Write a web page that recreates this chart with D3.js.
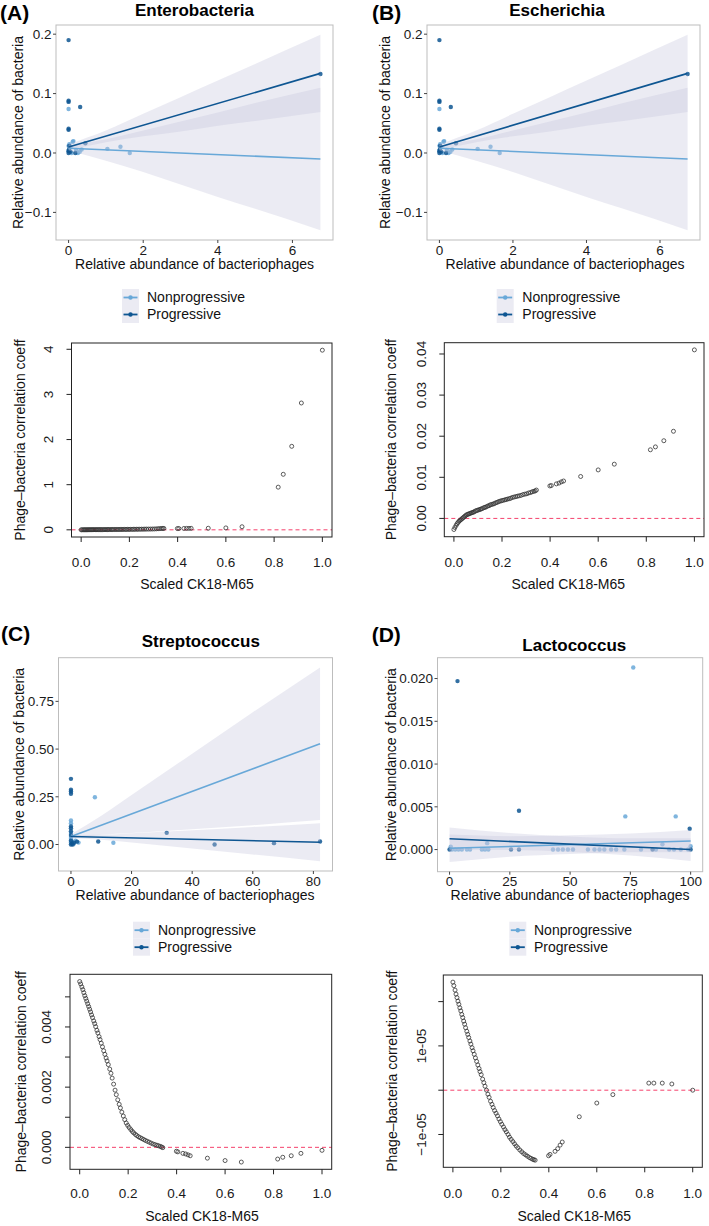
<!DOCTYPE html>
<html>
<head>
<meta charset="utf-8">
<script src="https://cdn.jsdelivr.net/npm/d3@7"></script>
<style>
  body { margin: 0; background: #fff; }
  text { font-family: "Liberation Sans", Arial, sans-serif; }
</style>
</head>
<body>
<script>
// ---------- data: top scatter panels (relative abundance) ----------
// Enterobacteria (panel B, Escherichia, shows the same values)
const entNonX = [0, 0, 0, 0.02, 0.05, 0.08, 0.11, 0.13, 0.2, 0.25, 0.3, 0.35, 1.04, 1.39, 1.64];
const entNonY = [0.074, 0.012, 0.004, 0.015, 0.010, 0.000, 0.019, 0.020, 0.005, 0.000, 0.002, 0.006, 0.007, 0.0105, 0.000];
const entProX = [0, 0, 0, 0, 0, 0, 0, 0.01, 0.02, 0.05, 0.18, 0.31, 0.45, 6.75];
const entProY = [0.190, 0.088, 0.086, 0.041, 0.039, 0.003, 0.000, 0.006, 0.012, 0.002, 0.000, 0.0775, 0.0165, 0.133];
const entFitX = [0, 6.75];
const entNonFitY = [0.008, -0.010];
const entProFitY = [0.010, 0.134];
const entRibX = [0, 1, 2, 3, 4, 5, 6.75];
const entNonLo = [0.004, -0.013, -0.032, -0.053, -0.074, -0.094, -0.130];
const entNonHi = [0.012, 0.023, 0.038, 0.053, 0.068, 0.084, 0.110];
const entProLo = [0.005, 0.018, 0.028, 0.036, 0.046, 0.054, 0.069];
const entProHi = [0.015, 0.038, 0.066, 0.094, 0.122, 0.150, 0.199];

// Streptococcus
const strNonX = [0, 0, 0, 0, 0, 0, 0, 0.5, 1, 1.5, 2.5, 7.9, 14];
const strNonY = [0.126, 0.112, 0.060, 0.040, 0.030, 0.020, 0.010, 0.015, 0.005, 0.020, 0.010, 0.248, 0.009];
const strProX = [0, 0, 0, 0, 0, 0, 0, 0, 0, 0, 0.3, 0.6, 1, 2, 9, 31.6, 47.4, 67, 82.2];
const strProY = [0.344, 0.287, 0.278, 0.266, 0.095, 0.085, 0.070, 0.050, 0.020, 0.000, 0.005, 0.000, 0.010, 0.015, 0.016, 0.061, 0.000, 0.007, 0.016];
const strFitX = [0, 82.2];
const strNonFitY = [0.042, 0.528];
const strProFitY = [0.042, 0.012];
const strRibX = [0, 10, 20, 40, 60, 82.2];
const strNonLo = [0.030, 0.051, 0.060, 0.080, 0.101, 0.128];
const strNonHi = [0.054, 0.151, 0.260, 0.476, 0.693, 0.928];
const strProLo = [0.034, 0.025, 0.011, -0.021, -0.052, -0.088];
const strProHi = [0.050, 0.051, 0.059, 0.075, 0.092, 0.112];

// Lactococcus
const lacNonX = [76.2, 72.9, 93.8, 15.6, 0.5, 1.0, 2.35, 3.7, 5.1, 7.2, 8.5, 13.4, 14.7, 16.1, 42.9, 45, 47, 49.1, 51.2, 57.4, 60.1, 62.2, 64.2, 67, 69.1, 72.5, 79.4, 85.6, 88.3, 91.1, 93.1, 95.9, 100, 99];
const lacNonY = [0.0213, 0.00388, 0.00388, 0.00075, 0.00035, 0, 0, 0, 0, 0, 0, 0, 0, 0, 0, 0, 0, 0, 0, 0, 0, 0, 0, 0, 0, 0, 0, 0, 0.00063, 0, 0, 0, 0.0004, 0];
const lacProX = [3.3, 28.8, 99.6, 0, 25.5, 28.8, 84.2, 100];
const lacProY = [0.0197, 0.00454, 0.00243, 0, 0, 0, 0, 0];
const lacFitX = [0, 100];
const lacNonFitY = [0.00015, 0.0010];
const lacProFitY = [0.00126, 0.0];
const lacRibX = [0, 25, 50, 75, 100];
const lacNonLo = [-0.00145, -0.00084, -0.00052, -0.00031, -0.0003];
const lacNonHi = [0.00175, 0.00156, 0.00168, 0.00189, 0.0023];
const lacProLo = [-0.00007, -0.00006, -0.00027, -0.00069, -0.00133];
const lacProHi = [0.00259, 0.00195, 0.00153, 0.00132, 0.00133];

// ---------- data: bottom panels (coefficient vs scaled CK18-M65) ----------
const ck18 = [0.000, 0.004, 0.009, 0.013, 0.017, 0.021, 0.025, 0.029, 0.033, 0.037,
  0.041, 0.045, 0.049, 0.053, 0.058, 0.062, 0.066, 0.071, 0.075, 0.080,
  0.084, 0.089, 0.094, 0.099, 0.104, 0.109, 0.113, 0.118, 0.124, 0.129,
  0.134, 0.140, 0.146, 0.151, 0.157, 0.163, 0.168, 0.174, 0.180, 0.186,
  0.192, 0.198, 0.204, 0.211, 0.217, 0.223, 0.230, 0.236, 0.243, 0.250,
  0.257, 0.264, 0.271, 0.279, 0.287, 0.295, 0.303, 0.311, 0.319, 0.326,
  0.333, 0.338, 0.343,
  0.399, 0.405, 0.426, 0.437, 0.447, 0.456, 0.527, 0.600, 0.667, 0.817, 0.838, 0.873, 0.913, 1.000];

const coefEnt = [0.000, 0.000, 0.001, 0.001, 0.001, 0.001, 0.001, 0.002, 0.002, 0.002,
  0.002, 0.002, 0.003, 0.003, 0.003, 0.003, 0.003, 0.004, 0.004, 0.004,
  0.004, 0.004, 0.005, 0.005, 0.005, 0.005, 0.006, 0.006, 0.006, 0.006,
  0.007, 0.007, 0.007, 0.007, 0.008, 0.008, 0.008, 0.009, 0.009, 0.009,
  0.010, 0.010, 0.010, 0.011, 0.011, 0.012, 0.012, 0.013, 0.013, 0.014,
  0.014, 0.015, 0.016, 0.016, 0.017, 0.018, 0.019, 0.021, 0.024, 0.027,
  0.029, 0.030, 0.031,
  0.028, 0.029, 0.030, 0.031, 0.032, 0.033, 0.035, 0.042, 0.068, 0.945, 1.23, 1.85, 2.81, 3.98];

const coefEsc = [-0.0027, -0.0022, -0.0017, -0.0013, -0.0010, -0.0007, -0.0005, -0.0003, -0.0001, 0.0001,
  0.0003, 0.0005, 0.0007, 0.0009, 0.0010, 0.0011, 0.0012, 0.0013, 0.0014, 0.0015,
  0.0016, 0.0018, 0.0019, 0.0020, 0.0021, 0.0022, 0.0023, 0.0024, 0.0026, 0.0027,
  0.0028, 0.0030, 0.0031, 0.0033, 0.0034, 0.0035, 0.0036, 0.0038, 0.0039, 0.0041,
  0.0042, 0.0043, 0.0044, 0.0045, 0.0046, 0.0047, 0.0048, 0.0049, 0.0051, 0.0052,
  0.0053, 0.0054, 0.0055, 0.0056, 0.0058, 0.0059, 0.0060, 0.0062, 0.0063, 0.0065,
  0.0066, 0.0067, 0.0069,
  0.0079, 0.0080, 0.0084, 0.0086, 0.0089, 0.0091, 0.0102, 0.0118, 0.0132, 0.0167, 0.0174, 0.0189, 0.0212, 0.0410];

const coefStr = [0.00551, 0.00543, 0.00533, 0.00524, 0.00514, 0.00504, 0.00495, 0.00486, 0.00477, 0.00468,
  0.00459, 0.00450, 0.00440, 0.00431, 0.00420, 0.00411, 0.00401, 0.00389, 0.00380, 0.00368,
  0.00358, 0.00346, 0.00334, 0.00321, 0.00309, 0.00297, 0.00287, 0.00275, 0.00260, 0.00246,
  0.00230, 0.00210, 0.00190, 0.00175, 0.00158, 0.00143, 0.00131, 0.00117, 0.00104, 0.00092,
  0.00081, 0.00073, 0.00066, 0.00059, 0.00053, 0.00048, 0.00043, 0.00039, 0.00035, 0.00032,
  0.00029, 0.00026, 0.00023, 0.00020, 0.00017, 0.00014, 0.00011, 0.00009, 0.00007, 0.00005,
  0.00003, 0.00001, -0.00001,
  -0.00013, -0.00015, -0.00020, -0.00022, -0.00025, -0.00028, -0.00036, -0.00044, -0.00049, -0.00039, -0.00033, -0.00028, -0.00020, -0.00010];

const coefLac = [2.44e-5, 2.36e-5, 2.26e-5, 2.17e-5, 2.09e-5, 2.01e-5, 1.94e-5, 1.86e-5, 1.79e-5, 1.71e-5,
  1.64e-5, 1.56e-5, 1.49e-5, 1.41e-5, 1.33e-5, 1.26e-5, 1.19e-5, 1.11e-5, 1.04e-5, 0.96e-5,
  0.89e-5, 0.81e-5, 0.73e-5, 0.65e-5, 0.57e-5, 0.49e-5, 0.42e-5, 0.35e-5, 0.25e-5, 0.17e-5,
  0.09e-5, 0.00, -0.09e-5, -0.16e-5, -0.25e-5, -0.32e-5, -0.39e-5, -0.46e-5, -0.52e-5, -0.58e-5,
  -0.65e-5, -0.71e-5, -0.77e-5, -0.83e-5, -0.89e-5, -0.94e-5, -1.00e-5, -1.06e-5, -1.11e-5, -1.16e-5,
  -1.21e-5, -1.26e-5, -1.30e-5, -1.35e-5, -1.39e-5, -1.43e-5, -1.46e-5, -1.49e-5, -1.52e-5, -1.54e-5,
  -1.56e-5, -1.57e-5, -1.58e-5,
  -1.48e-5, -1.45e-5, -1.38e-5, -1.32e-5, -1.24e-5, -1.17e-5, -0.60e-5, -0.29e-5, -0.10e-5, 0.16e-5, 0.16e-5, 0.16e-5, 0.14e-5, 0.00];

// ---------- tick labels ----------
const entXTicks = [0, 2, 4, 6];
const entYTicks = [-0.1, 0, 0.1, 0.2];
const entYLabels = ["\u22120.1", "0.0", "0.1", "0.2"];
const strXTicks = [0, 20, 40, 60, 80];
const strYTicks = [0, 0.25, 0.5, 0.75];
const strYLabels = ["0.00", "0.25", "0.50", "0.75"];
const lacXTicks = [0, 25, 50, 75, 100];
const lacYTicks = [0, 0.005, 0.01, 0.015, 0.02];
const lacYLabels = ["0.000", "0.005", "0.010", "0.015", "0.020"];

const ckXTicks = [0, 0.2, 0.4, 0.6, 0.8, 1.0];
const ckXLabels = ["0.0", "0.2", "0.4", "0.6", "0.8", "1.0"];
const coefEntTicks = [0, 1, 2, 3, 4];
const coefEntLabels = ["0", "1", "2", "3", "4"];
const coefEscTicks = [0, 0.01, 0.02, 0.03, 0.04];
const coefEscLabels = ["0.00", "0.01", "0.02", "0.03", "0.04"];
const coefStrTicks = [0, 0.001, 0.002, 0.003, 0.004, 0.005];
const coefStrLabels = ["0.000", "", "0.002", "", "0.004", ""];
const coefLacTicks = [-1e-5, 0, 1e-5, 2e-5];
const coefLacLabels = ["\u22121e-05", "", "1e-05", ""];

const groups = ["Nonprogressive", "Progressive"];

// ---------- drawing ----------
const LIGHT = "#68a8d8";
const DARK = "#0e5692";
const RIB = "rgb(198,198,221)";
const KEYBG = "#ebebf3";

const svg = d3.select("body").append("svg")
  .attr("width", 709)
  .attr("height", 1226);

function zipXY(xs, ys) { return xs.map((x, i) => [x, ys[i]]); }

function expand(ext, f) {
  const d = ext[1] - ext[0];
  return [ext[0] - d * f, ext[1] + d * f];
}

function rotText(g, x, y, txt, size) {
  g.append("text")
    .attr("transform", `translate(${x},${y}) rotate(-90)`)
    .attr("text-anchor", "middle")
    .attr("dominant-baseline", "central")
    .attr("font-size", size)
    .attr("fill", "#111")
    .text(txt);
}

function drawScatter(p) {
  const g = svg.append("g");
  const allX = [], allY = [];
  p.series.forEach(s => {
    allX.push(...s.x, ...s.ribX);
    allY.push(...s.y, ...s.lo, ...s.hi);
  });
  const x = d3.scaleLinear().domain(expand(d3.extent(allX), 0.05)).range([p.box.l, p.box.r]);
  const y = d3.scaleLinear().domain(expand(d3.extent(allY), 0.05)).range([p.box.b, p.box.t]);

  const clipId = "clip" + p.letter.replace(/\W/g, "");
  g.append("clipPath").attr("id", clipId).append("rect")
    .attr("x", p.box.l).attr("y", p.box.t)
    .attr("width", p.box.r - p.box.l).attr("height", p.box.b - p.box.t);
  const inner = g.append("g").attr("clip-path", `url(#${clipId})`);

  // points
  p.series.forEach(s => {
    inner.selectAll(null).data(zipXY(s.x, s.y)).enter().append("circle")
      .attr("cx", d => x(d[0])).attr("cy", d => y(d[1]))
      .attr("r", 2.2).attr("fill", s.color).attr("fill-opacity", 0.85);
  });
  // confidence ribbons
  const area = d3.area().x(d => x(d[0])).y0(d => y(d[1])).y1(d => y(d[2])).curve(d3.curveMonotoneX);
  p.series.forEach(s => {
    inner.append("path")
      .datum(s.ribX.map((v, i) => [v, s.lo[i], s.hi[i]]))
      .attr("d", area).attr("fill", RIB).attr("fill-opacity", 0.35);
  });
  // fitted lines
  const line = d3.line().x(d => x(d[0])).y(d => y(d[1]));
  p.series.forEach(s => {
    inner.append("path").datum(zipXY(s.fitX, s.fitY))
      .attr("d", line).attr("fill", "none").attr("stroke", s.color).attr("stroke-width", 1.6);
  });

  // border
  g.append("rect")
    .attr("x", p.box.l).attr("y", p.box.t)
    .attr("width", p.box.r - p.box.l).attr("height", p.box.b - p.box.t)
    .attr("fill", "none").attr("stroke", "#bdbdbd").attr("stroke-width", 1);

  // axes
  p.xTicks.forEach(t => {
    g.append("line").attr("x1", x(t)).attr("x2", x(t)).attr("y1", p.box.b).attr("y2", p.box.b + 3)
      .attr("stroke", "#444");
    g.append("text").attr("x", x(t)).attr("y", p.xTickY).attr("text-anchor", "middle")
      .attr("font-size", 13.5).attr("fill", "#1a1a1a").text(t);
  });
  p.yTicks.forEach((t, i) => {
    g.append("line").attr("x1", p.box.l - 3).attr("x2", p.box.l).attr("y1", y(t)).attr("y2", y(t))
      .attr("stroke", "#444");
    g.append("text").attr("x", p.box.l - 4.5).attr("y", y(t)).attr("dy", "0.35em")
      .attr("text-anchor", "end").attr("font-size", 13.5).attr("fill", "#1a1a1a").text(p.yLabels[i]);
  });

  g.append("text").attr("x", p.xlab.x).attr("y", p.xlab.y).attr("text-anchor", "middle")
    .attr("font-size", 14).attr("fill", "#111").text("Relative abundance of bacteriophages");
  rotText(g, p.ylabX, (p.box.t + p.box.b) / 2, "Relative abundance of bacteria", 14);

  g.append("text").attr("x", p.title.x).attr("y", p.title.y).attr("text-anchor", "middle")
    .attr("font-size", 17).attr("font-weight", "bold").text(p.title.text);
  g.append("text").attr("x", p.letterPos.x).attr("y", p.letterPos.y)
    .attr("font-size", 21).attr("font-weight", "bold").text(p.letter);

  // legend
  const lg = g.append("g");
  [LIGHT, DARK].forEach((c, i) => {
    const ky = p.legend.y + i * 17;
    lg.append("rect").attr("x", p.legend.x).attr("y", ky).attr("width", 17).attr("height", 17)
      .attr("fill", KEYBG);
    lg.append("line").attr("x1", p.legend.x + 1.5).attr("x2", p.legend.x + 15.5)
      .attr("y1", ky + 8.5).attr("y2", ky + 8.5).attr("stroke", c).attr("stroke-width", 1.8);
    lg.append("circle").attr("cx", p.legend.x + 8.5).attr("cy", ky + 8.5).attr("r", 2.2).attr("fill", c);
    lg.append("text").attr("x", p.legend.tx).attr("y", ky + 8.5).attr("dy", "0.35em")
      .attr("font-size", 14).attr("fill", "#111").text(groups[i]);
  });
}

function drawBase(p) {
  const g = svg.append("g");
  const x = d3.scaleLinear().domain(expand(d3.extent(ck18), 0.04)).range([p.box.l, p.box.r]);
  const y = d3.scaleLinear().domain(expand(d3.extent(p.coef), 0.04)).range([p.box.b, p.box.t]);

  g.append("line").attr("x1", p.box.l).attr("x2", p.box.r).attr("y1", y(0)).attr("y2", y(0))
    .attr("stroke", "#f5426c").attr("stroke-width", 1).attr("stroke-dasharray", "4,3");

  g.selectAll(null).data(zipXY(ck18, p.coef)).enter().append("circle")
    .attr("cx", d => x(d[0])).attr("cy", d => y(d[1])).attr("r", 2)
    .attr("fill", "none").attr("stroke", "#333").attr("stroke-width", 0.8);

  g.append("rect")
    .attr("x", p.box.l).attr("y", p.box.t)
    .attr("width", p.box.r - p.box.l).attr("height", p.box.b - p.box.t)
    .attr("fill", "none").attr("stroke", "#222").attr("stroke-width", 1);

  ckXTicks.forEach((t, i) => {
    g.append("line").attr("x1", x(t)).attr("x2", x(t)).attr("y1", p.box.b).attr("y2", p.box.b + 5)
      .attr("stroke", "#222");
    g.append("text").attr("x", x(t)).attr("y", p.xTickY).attr("text-anchor", "middle")
      .attr("font-size", 13.5).attr("fill", "#1a1a1a").text(ckXLabels[i]);
  });
  p.yTicks.forEach((t, i) => {
    g.append("line").attr("x1", p.box.l - 5).attr("x2", p.box.l).attr("y1", y(t)).attr("y2", y(t))
      .attr("stroke", "#222");
    if (p.yLabels[i]) {
      g.append("text")
        .attr("transform", `translate(${p.yTickX},${y(t)}) rotate(-90)`)
        .attr("text-anchor", "middle").attr("dominant-baseline", "central")
        .attr("font-size", 13.5).attr("fill", "#1a1a1a").text(p.yLabels[i]);
    }
  });

  g.append("text").attr("x", p.xlab.x).attr("y", p.xlab.y).attr("text-anchor", "middle")
    .attr("font-size", 14).attr("fill", "#111").text("Scaled CK18-M65");
  rotText(g, p.ylabX, (p.box.t + p.box.b) / 2, "Phage\u2013bacteria correlation coeff", 14);
}

function series(nx, ny, px, py, fx, nfy, pfy, rx, nlo, nhi, plo, phi) {
  return [
    { x: nx, y: ny, fitX: fx, fitY: nfy, ribX: rx, lo: nlo, hi: nhi, color: LIGHT },
    { x: px, y: py, fitX: fx, fitY: pfy, ribX: rx, lo: plo, hi: phi, color: DARK }
  ];
}

const entSeries = series(entNonX, entNonY, entProX, entProY, entFitX, entNonFitY, entProFitY,
  entRibX, entNonLo, entNonHi, entProLo, entProHi);

drawScatter({
  letter: "(A)", letterPos: { x: 0, y: 20 },
  title: { text: "Enterobacteria", x: 194.5, y: 16 },
  box: { l: 56, r: 333, t: 25, b: 240 },
  series: entSeries, xTicks: entXTicks, yTicks: entYTicks, yLabels: entYLabels,
  xTickY: 255, xlab: { x: 194.5, y: 269 }, ylabX: 18,
  legend: { x: 122, y: 289, tx: 147 }
});
drawScatter({
  letter: "(B)", letterPos: { x: 372, y: 20 },
  title: { text: "Escherichia", x: 557, y: 16 },
  box: { l: 427, r: 700, t: 25, b: 240 },
  series: entSeries, xTicks: entXTicks, yTicks: entYTicks, yLabels: entYLabels,
  xTickY: 255, xlab: { x: 565, y: 269 }, ylabX: 384.5,
  legend: { x: 496.7, y: 289, tx: 522.3 }
});
drawScatter({
  letter: "(C)", letterPos: { x: 1, y: 641 },
  title: { text: "Streptococcus", x: 200.8, y: 647 },
  box: { l: 58.5, r: 332.5, t: 657.7, b: 871 },
  series: series(strNonX, strNonY, strProX, strProY, strFitX, strNonFitY, strProFitY,
    strRibX, strNonLo, strNonHi, strProLo, strProHi),
  xTicks: strXTicks, yTicks: strYTicks, yLabels: strYLabels,
  xTickY: 886, xlab: { x: 195, y: 900 }, ylabX: 19.2,
  legend: { x: 133, y: 921.7, tx: 158 }
});
drawScatter({
  letter: "(D)", letterPos: { x: 371.7, y: 641.7 },
  title: { text: "Lactococcus", x: 574.3, y: 650.5 },
  box: { l: 437.5, r: 702.7, t: 657.7, b: 871.7 },
  series: series(lacNonX, lacNonY, lacProX, lacProY, lacFitX, lacNonFitY, lacProFitY,
    lacRibX, lacNonLo, lacNonHi, lacProLo, lacProHi),
  xTicks: lacXTicks, yTicks: lacYTicks, yLabels: lacYLabels,
  xTickY: 886, xlab: { x: 570, y: 900 }, ylabX: 391,
  legend: { x: 509.3, y: 921.7, tx: 534 }
});

drawBase({
  coef: coefEnt, yTicks: coefEntTicks, yLabels: coefEntLabels,
  box: { l: 71.5, r: 332, t: 343, b: 537 },
  yTickX: 48, ylabX: 19.5, xTickY: 567, xlab: { x: 197, y: 589 }
});
drawBase({
  coef: coefEsc, yTicks: coefEscTicks, yLabels: coefEscLabels,
  box: { l: 444.3, r: 704, t: 342.7, b: 536.7 },
  yTickX: 421, ylabX: 391, xTickY: 566.5, xlab: { x: 568.3, y: 589 }
});
drawBase({
  coef: coefStr, yTicks: coefStrTicks, yLabels: coefStrLabels,
  box: { l: 70, r: 331.7, t: 974.3, b: 1169.3 },
  yTickX: 46, ylabX: 20.8, xTickY: 1198, xlab: { x: 202, y: 1221 }
});
drawBase({
  coef: coefLac, yTicks: coefLacTicks, yLabels: coefLacLabels,
  box: { l: 443.3, r: 702.3, t: 975, b: 1167.3 },
  yTickX: 421, ylabX: 391.7, xTickY: 1198, xlab: { x: 574.2, y: 1221 }
});
</script>
</body>
</html>
